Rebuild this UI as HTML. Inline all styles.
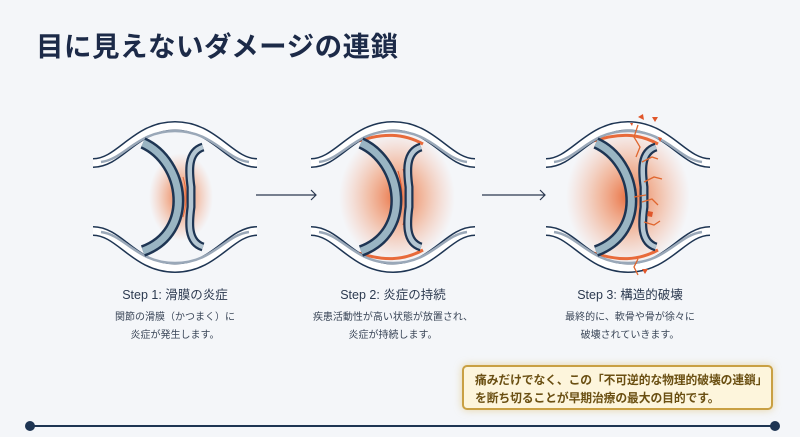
<!DOCTYPE html>
<html><head><meta charset="utf-8"><style>
body{margin:0;width:800px;height:437px;background:#f4f6f9;font-family:"Liberation Sans","Noto Sans CJK JP",sans-serif;overflow:hidden;position:relative}
.t{position:absolute;left:36px;top:24px;font-size:27.5px;font-weight:bold;color:#1c2a48;letter-spacing:0.5px}
.st{position:absolute;width:220px;text-align:center;color:#2c3a50}
.st b{display:block;font-weight:normal;font-size:12.5px;margin-bottom:4px}
.st span{font-size:10px;line-height:15px;color:#3a4658}
.box{position:absolute;left:462px;top:365px;border:2px solid #c9a043;border-radius:5px;background:#fdf5dc;box-shadow:0 0 8px rgba(220,180,80,.5);color:#6a4f12;font-weight:bold;font-size:11.8px;line-height:18px;padding:4px 0 0 11px;box-sizing:border-box;width:311px;height:45px;white-space:nowrap;letter-spacing:-0.1px}
</style></head><body>
<div class="t">目に見えないダメージの連鎖</div>
<svg width="800" height="437" style="position:absolute;left:0;top:0">
<defs>
<radialGradient id="g1"><stop offset="0" stop-color="#e8622e" stop-opacity=".9"/><stop offset=".5" stop-color="#f08a5a" stop-opacity=".5"/><stop offset="1" stop-color="#f4a080" stop-opacity="0"/></radialGradient>
<g id="bones">
<path d="M-82,-34 C-55,-34 -40,-71 0,-71 C40,-71 55,-34 82,-34" fill="none" stroke="#1e3553" stroke-width="10"/>
<path d="M-82,-34 C-55,-34 -40,-71 0,-71 C40,-71 55,-34 82,-34" fill="none" stroke="#fff" stroke-width="7"/>
<path d="M-74,-35 C-50,-38 -38,-66 0,-66 C38,-66 50,-38 74,-35" fill="none" stroke="#9aa8b8" stroke-width="2.5"/>
<path d="M-82,34 C-55,34 -40,71 0,71 C40,71 55,34 82,34" fill="none" stroke="#1e3553" stroke-width="10"/>
<path d="M-82,34 C-55,34 -40,71 0,71 C40,71 55,34 82,34" fill="none" stroke="#fff" stroke-width="7"/>
<path d="M-74,35 C-50,38 -38,66 0,66 C38,66 50,38 74,35" fill="none" stroke="#9aa8b8" stroke-width="2.5"/>
</g>
<g id="lc">
<path d="M-32,-54 C10,-35 20,35 -32,54" fill="none" stroke="#1e3553" stroke-width="12"/>
<path d="M-32,-54 C10,-35 20,35 -32,54" fill="none" stroke="#9ab5c3" stroke-width="7"/>
</g>
<g id="rc">
<path d="M28,-50 C12,-45 14,-25 16,-10 L16,10 C14,25 12,45 28,50" fill="none" stroke="#1e3553" stroke-width="9"/>
<path d="M28,-50 C12,-45 14,-25 16,-10 L16,10 C14,25 12,45 28,50" fill="none" stroke="#b4c6d2" stroke-width="4.5"/>
</g>
</defs>
<g transform="translate(175,197)">
<ellipse cx="6" cy="0" rx="32" ry="44" fill="url(#g1)"/>
<g fill="none" stroke="#e86a3a" stroke-width="1"><path d="M4,-18 Q10,0 4,18"/><path d="M8,-20 Q14,0 8,20"/><path d="M12,-16 Q17,0 12,16"/></g>
<use href="#bones"/><use href="#lc"/><use href="#rc"/>
</g>
<path d="M256,195 H316 M311,190 L316,195 L311,200" fill="none" stroke="#2a3850" stroke-width="1.2"/>
<g transform="translate(393,197)">
<ellipse cx="4" cy="0" rx="58" ry="66" fill="url(#g1)"/>
<path d="M-34,-56 C-10,-64 10,-64 30,-53" fill="none" stroke="#e86a3a" stroke-width="3"/>
<path d="M-34,56 C-10,64 10,64 30,53" fill="none" stroke="#e86a3a" stroke-width="3"/>
<g fill="none" stroke="#e0562a" stroke-width="1"><path d="M0,-22 Q8,0 0,22"/><path d="M5,-26 Q13,0 5,26"/><path d="M10,-28 Q18,0 10,28"/><path d="M15,-24 Q22,0 15,24"/></g>
<use href="#bones"/><use href="#lc"/><use href="#rc"/>
</g>
<path d="M482,195 H545 M540,190 L545,195 L540,200" fill="none" stroke="#2a3850" stroke-width="1.2"/>
<g transform="translate(628,197)">
<ellipse cx="0" cy="0" rx="62" ry="70" fill="url(#g1)"/>
<path d="M-34,-56 C-10,-64 10,-64 30,-53" fill="none" stroke="#e86a3a" stroke-width="3"/>
<path d="M-34,56 C-10,64 10,64 30,53" fill="none" stroke="#e86a3a" stroke-width="3"/>
<use href="#bones"/><use href="#lc"/><use href="#rc"/>
<g fill="none" stroke="#e0662e" stroke-width="1.3">
<path d="M10,-72 L6,-60 L12,-50 L8,-40"/><path d="M14,-35 L24,-40 L30,-38"/><path d="M16,-15 L26,-20 L34,-18"/><path d="M14,5 L24,2 L30,8"/><path d="M16,25 L26,28 L32,24"/><path d="M10,62 L6,70 L10,78"/><path d="M18,-2 L6,0"/>
</g>
<g fill="#e0562a"><path d="M10,-80 l5,-3 l1,6z"/><path d="M24,-80 l6,0 l-3,5z"/><path d="M30,-60 l4,1 l-2,4z"/><path d="M20,14 l5,1 l-1,5 l-5,-1z"/><path d="M14,72 l6,0 l-3,5z"/><path d="M2,-74 l3,0 l-1,3z"/></g>
</g>
<line x1="30" y1="426" x2="775" y2="426" stroke="#1e3553" stroke-width="2"/>
<circle cx="30" cy="426" r="5" fill="#1e3553"/><circle cx="775" cy="426" r="5" fill="#1e3553"/>
</svg>
<div class="st" style="left:65px;top:284px"><b>Step 1: 滑膜の炎症</b><span>関節の滑膜（かつまく）に<br>炎症が発生します。</span></div>
<div class="st" style="left:283px;top:284px"><b>Step 2: 炎症の持続</b><span>疾患活動性が高い状態が放置され、<br>炎症が持続します。</span></div>
<div class="st" style="left:520px;top:284px"><b>Step 3: 構造的破壊</b><span>最終的に、軟骨や骨が徐々に<br>破壊されていきます。</span></div>
<div class="box">痛みだけでなく、この「不可逆的な物理的破壊の連鎖」<br>を断ち切ることが早期治療の最大の目的です。</div>
</body></html>
